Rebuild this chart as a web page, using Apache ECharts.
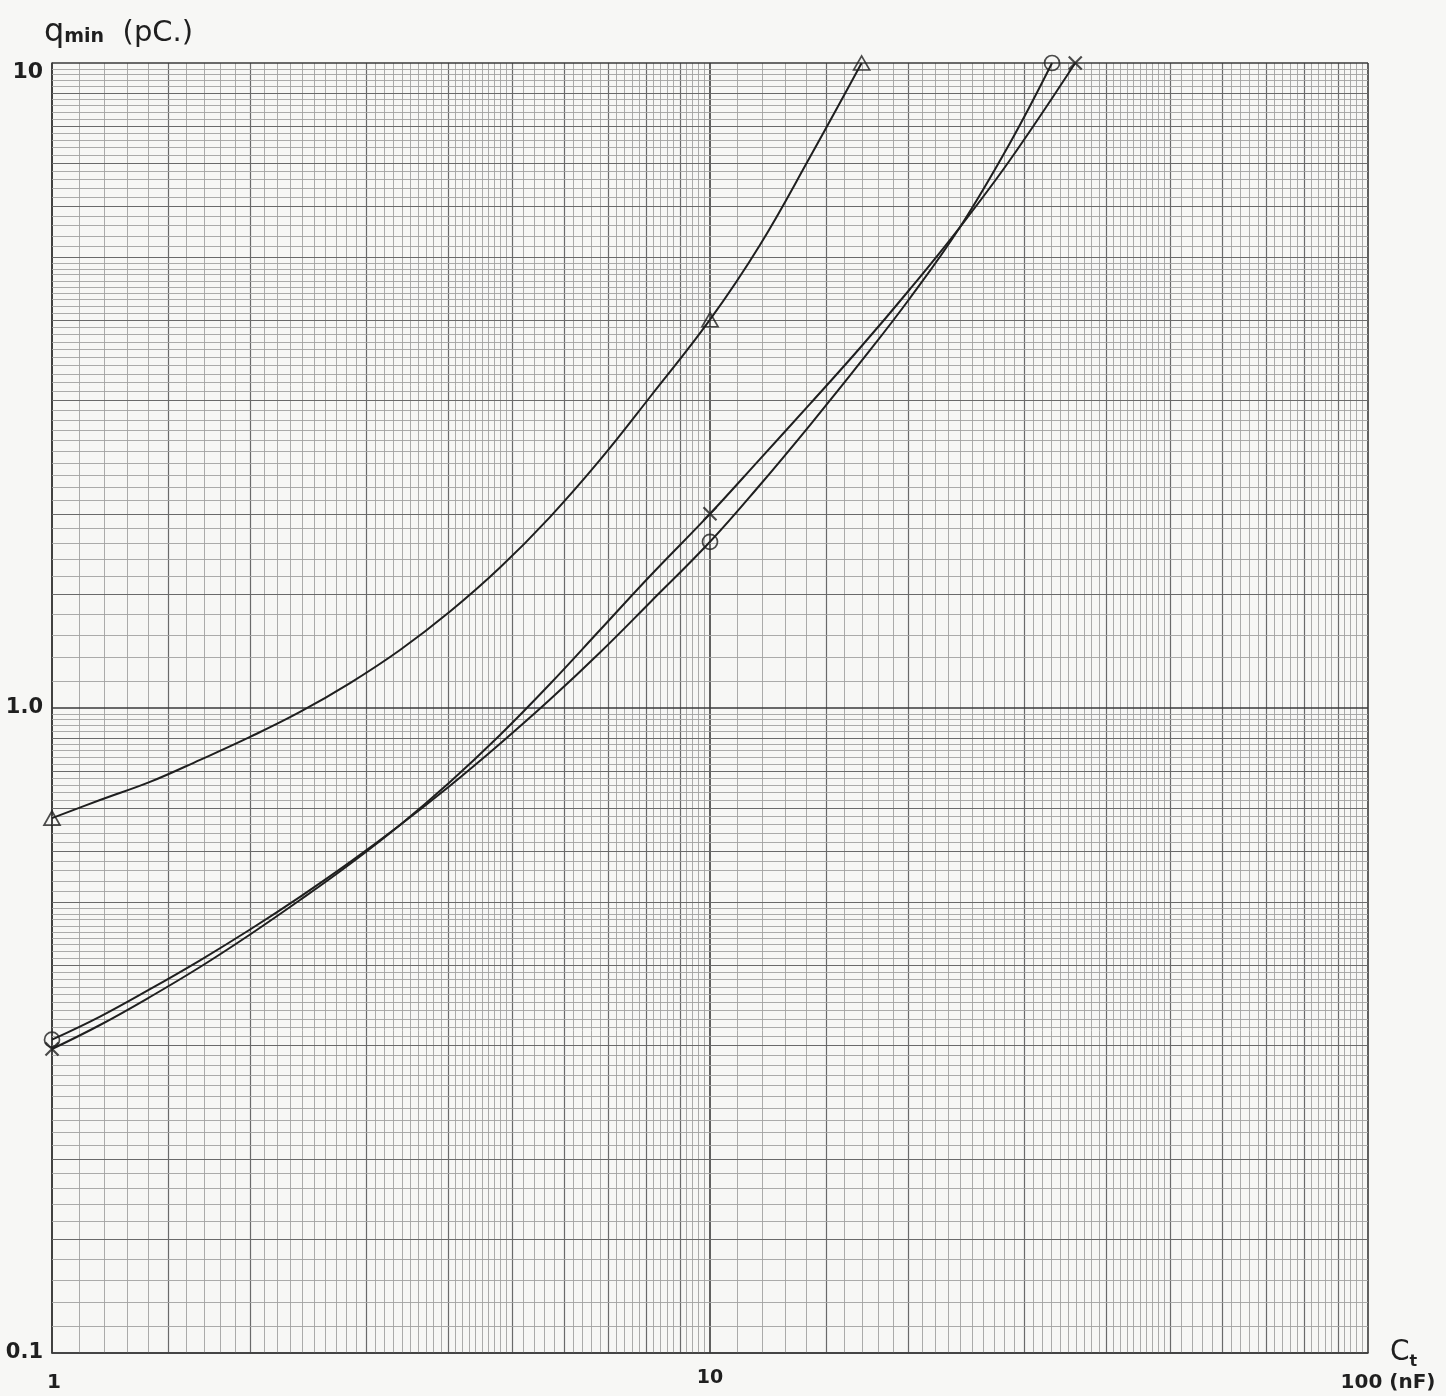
<!DOCTYPE html>
<html>
<head>
<meta charset="utf-8">
<script src="https://cdn.jsdelivr.net/npm/echarts@6/dist/echarts.min.js"></script>
<style>
html,body{margin:0;padding:0;background:#f7f7f5;}
#c{width:1446px;height:1396px;}
</style>
</head>
<body>
<div id="c"></div>
<script>
// ---- data (x: C_t in nF, y: q_min in pC) ----
// triangle curve
const triX = [1, 1.183, 1.409, 1.679, 2.000, 2.382, 2.837, 3.380, 4.026, 4.796, 5.712, 6.805, 8.107, 10, 11.91, 14.19, 17.0];
const triY = [0.675, 0.720, 0.768, 0.831, 0.902, 0.986, 1.093, 1.230, 1.411, 1.651, 1.977, 2.424, 3.035, 4.0, 5.222, 7.149, 10];
const triMarkX = [1, 10, 17.0];
const triMarkY = [0.675, 4.0, 10];

// circle curve
const cirX = [1, 1.183, 1.409, 1.679, 2.000, 2.382, 2.837, 3.380, 4.026, 4.796, 5.712, 6.805, 8.107, 10, 11.91, 14.19, 16.90, 20.14, 23.99, 28.57, 33.1];
const cirY = [0.306, 0.3323, 0.3665, 0.4063, 0.4535, 0.5096, 0.5767, 0.6584, 0.7577, 0.8801, 1.0304, 1.2191, 1.4576, 1.81, 2.217, 2.746, 3.427, 4.322, 5.568, 7.516, 10];
const cirMarkX = [1, 10, 33.1];
const cirMarkY = [0.306, 1.81, 10];

// cross curve
const crsX = [1, 1.183, 1.409, 1.679, 2.000, 2.382, 2.837, 3.380, 4.026, 4.796, 5.712, 6.805, 8.107, 10, 11.91, 14.19, 16.90, 20.14, 23.99, 28.57, 35.9];
const crsY = [0.296, 0.3225, 0.3564, 0.3967, 0.4455, 0.5038, 0.5730, 0.6587, 0.768, 0.9082, 1.0894, 1.3210, 1.6022, 2.0, 2.432, 2.961, 3.615, 4.463, 5.568, 7.072, 10];
const crsMarkX = [1, 10, 35.9];
const crsMarkY = [0.296, 2.0, 10];

const xTicks = [1, 10, 100];
const xTickLabels = ['1', '10', '100 (nF)'];
const yTicks = [0.1, 1, 10];
const yTickLabels = ['0.1', '1.0', '10'];

const X_MIN = 1, X_MAX = 100, Y_MIN = 0.1, Y_MAX = 10;

// ---- log graph-paper rulings (decade starts) ----
function paperLines(decades) {
  const out = [];
  decades.forEach(function (d) {
    for (let i = 10; i < 50; i++) {
      const level = (i === 10) ? 3 : ((i % 10 === 0 || i === 15) ? 2 : 1);
      out.push([+(i / 10 * d).toPrecision(6), level]);
    }
    for (let i = 50; i < 100; i += 2) {
      const level = (i % 10 === 0) ? 2 : 1;
      out.push([+(i / 10 * d).toPrecision(6), level]);
    }
  });
  out.push([+(decades[decades.length - 1] * 10).toPrecision(6), 3]);
  out.sort(function (a, b) { return a[1] - b[1]; });
  return out;
}
const vLines = paperLines([1, 10]).map(function (p) { return [p[0], 1, p[1]]; });
const hLines = paperLines([0.1, 1]).map(function (p) { return [1, p[0], p[1]]; });

function rule(level) {
  if (level === 3) return { stroke: '#3a3a3a', lineWidth: 1.6 };
  if (level === 2) return { stroke: '#6a6a6a', lineWidth: 1.2 };
  return { stroke: '#a2a2a2', lineWidth: 0.9 };
}
function crisp(v, w) { return w < 1.5 ? Math.round(v) + 0.5 : Math.round(v); }

function zip(a, b) { return a.map(function (v, i) { return [v, b[i]]; }); }
function tickLabel(ticks, labels) {
  return function (v) {
    for (let i = 0; i < ticks.length; i++) {
      if (Math.abs(ticks[i] - v) / ticks[i] < 1e-6) return labels[i];
    }
    return '';
  };
}

const ink = '#1f1f1f';
const hollow = { color: 'rgba(0,0,0,0)', borderColor: ink, borderWidth: 1.7 };
const curveStyle = { color: ink, width: 2 };

const chart = echarts.init(document.getElementById('c'), null, { renderer: 'canvas' });
chart.setOption({
  backgroundColor: '#f7f7f5',
  animation: false,
  grid: { left: 52, top: 63, width: 1316, height: 1290, containLabel: false, outerBoundsMode: 'none' },
  xAxis: {
    type: 'log', logBase: 10, min: X_MIN, max: X_MAX,
    axisLine: { show: true, lineStyle: { color: '#3a3a3a', width: 1.6 } },
    axisTick: { show: false },
    splitLine: { show: false },
    axisLabel: {
      formatter: function (v) {
        const s = tickLabel(xTicks, xTickLabels)(v);
        if (s === xTickLabels[0]) return '{o|' + s + '}';
        return s === xTickLabels[2] ? '{e|' + s + '}' : s;
      },
      margin: 16, fontSize: 19, fontWeight: 'bold', color: ink,
      fontFamily: 'DejaVu Sans',
      rich: {
        o: { fontSize: 20, fontWeight: 'bold', color: ink, fontFamily: 'DejaVu Sans', padding: [4, 0, 0, 4] },
        e: { fontSize: 20, fontWeight: 'bold', color: ink, fontFamily: 'DejaVu Sans', padding: [4, 0, 0, 40] }
      }
    },
    name: '{c|C}{t|t}',
    nameLocation: 'end', nameGap: 22,
    nameTextStyle: {
      rich: {
        c: { fontSize: 28, color: ink, fontFamily: 'DejaVu Sans' },
        t: { fontSize: 16, fontWeight: 'bold', color: ink, fontFamily: 'DejaVu Sans', padding: [18, 0, 0, 0] }
      }
    }
  },
  yAxis: {
    type: 'log', logBase: 10, min: Y_MIN, max: Y_MAX,
    axisLine: { show: true, lineStyle: { color: '#3a3a3a', width: 1.6 } },
    axisTick: { show: false },
    splitLine: { show: false },
    axisLabel: {
      formatter: function (v) {
        const s = tickLabel(yTicks, yTickLabels)(v);
        return s === yTickLabels[2] ? '{t|' + s + '}' : s;
      },
      margin: 9, fontSize: 21, fontWeight: 'bold', color: ink,
      fontFamily: 'DejaVu Sans',
      rich: { t: { fontSize: 22, fontWeight: 'bold', color: ink, fontFamily: 'DejaVu Sans', padding: [18, 0, 0, 0] } }
    },
    name: '{q|q}{m|min}{p|  (pC.)}',
    nameLocation: 'end', nameGap: 14,
    nameTextStyle: {
      align: 'left',
      padding: [0, 0, 0, -8],
      rich: {
        q: { fontSize: 32, color: ink, fontFamily: 'DejaVu Sans' },
        m: { fontSize: 19, fontWeight: 'bold', color: ink, fontFamily: 'DejaVu Sans', padding: [8, 0, 0, 0] },
        p: { fontSize: 29, color: ink, fontFamily: 'DejaVu Sans' }
      }
    }
  },
  series: [
    {
      type: 'custom', silent: true, z: 1, clip: false,
      encode: { x: 0, y: 1 },
      data: vLines,
      renderItem: function (params, api) {
        const v = api.value(0);
        const a = api.coord([v, Y_MIN]);
        const b = api.coord([v, Y_MAX]);
        const st = rule(api.value(2));
        const x = crisp(a[0], st.lineWidth);
        return { type: 'line', shape: { x1: x, y1: a[1], x2: x, y2: b[1] }, style: st };
      }
    },
    {
      type: 'custom', silent: true, z: 1, clip: false,
      encode: { x: 0, y: 1 },
      data: hLines,
      renderItem: function (params, api) {
        const v = api.value(1);
        const a = api.coord([X_MIN, v]);
        const b = api.coord([X_MAX, v]);
        const st = rule(api.value(2));
        const y = crisp(a[1], st.lineWidth);
        return { type: 'line', shape: { x1: a[0], y1: y, x2: b[0], y2: y }, style: st };
      }
    },
    { name: 'triangle', type: 'line', z: 5, clip: false, data: zip(triX, triY), smooth: 0.4, symbol: 'none', lineStyle: curveStyle },
    { name: 'circle', type: 'line', z: 5, clip: false, data: zip(cirX, cirY), smooth: 0.4, symbol: 'none', lineStyle: curveStyle },
    { name: 'cross', type: 'line', z: 5, clip: false, data: zip(crsX, crsY), smooth: 0.4, symbol: 'none', lineStyle: curveStyle },
    {
      type: 'scatter', z: 6, clip: false,
      data: zip(triMarkX, triMarkY),
      symbol: 'triangle', symbolSize: [16, 14], itemStyle: hollow
    },
    {
      type: 'scatter', z: 6, clip: false,
      data: zip(cirMarkX, cirMarkY),
      symbol: 'circle', symbolSize: 15, itemStyle: hollow
    },
    {
      type: 'scatter', z: 6, clip: false,
      data: zip(crsMarkX, crsMarkY),
      symbol: 'path://M0,0L10,10M10,0L0,10', symbolSize: 13,
      itemStyle: { color: 'none', borderColor: ink, borderWidth: 2.2 }
    }
  ]
});
</script>
</body>
</html>
